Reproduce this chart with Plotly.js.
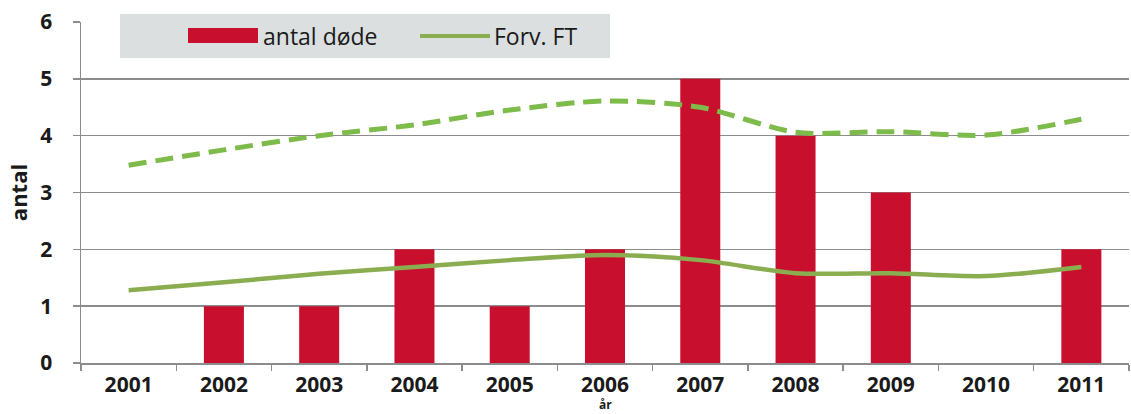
<!DOCTYPE html>
<html>
<head>
<meta charset="utf-8">
<script src="https://cdn.plot.ly/plotly-3.0.1.min.js"></script>
<style>html,body{margin:0;padding:0;background:#fff;}#chart{width:1131px;height:414px;}</style>
</head>
<body>
<div id="chart"></div>
<script>
const years = ['2001','2002','2003','2004','2005','2006','2007','2008','2009','2010','2011'];
const antalDoede = [0, 1, 1, 2, 1, 2, 5, 4, 3, 0, 2];
const forvFT = [1.28, 1.42, 1.57, 1.69, 1.81, 1.9, 1.81, 1.58, 1.58, 1.53, 1.69];
const forvOevre = [3.48, 3.75, 4.0, 4.19, 4.45, 4.61, 4.5, 4.06, 4.07, 4.01, 4.29];
const yTicks = [0, 1, 2, 3, 4, 5, 6];

const FONT = 'Open Sans, Liberation Sans, sans-serif';
const red = '#c8102e';
const green = '#8aae4f';
const green2 = '#7dbb4a';

const traces = [
  {type:'bar', name:'antal døde', x:years, y:antalDoede, marker:{color:red}, showlegend:false},
  {type:'scatter', mode:'lines', name:'Forv. FT', x:years, y:forvFT,
   line:{color:green, width:4.5, shape:'spline', smoothing:0.8}, showlegend:false},
  {type:'scatter', mode:'lines', name:'øvre grænse', x:years, y:forvOevre,
   line:{color:green2, width:5, shape:'spline', smoothing:0.8, dash:'18px,9px'}, showlegend:false}
];

const layout = {
  width:1131, height:414,
  margin:{l:81, r:2, t:22, b:51},
  paper_bgcolor:'#fff', plot_bgcolor:'#fff',
  bargap:0.58,
  font:{family:FONT, color:'#1a1a1a'},
  xaxis:{
    type:'category', tickson:'boundaries', ticks:'outside', ticklen:6, tickcolor:'#8c8c8c', tickwidth:1.5,
    showgrid:false, showline:true, linecolor:'#8c8c8c', linewidth:1.5,
    tickfont:{family:FONT, size:21, color:'#1a1a1a', weight:'bold'},
    ticklabelstandoff:2
  },
  yaxis:{
    range:[0,6], tickvals:yTicks, ticktext:yTicks.map(String),
    ticks:'outside', ticklen:7, tickcolor:'#8c8c8c', tickwidth:1.5,
    showgrid:true, gridcolor:'#8c8c8c', gridwidth:1.5,
    showline:true, linecolor:'#8c8c8c', linewidth:1.5, zeroline:false,
    tickfont:{family:FONT, size:21, color:'#1a1a1a', weight:'bold'},
    ticklabelstandoff:16,
    title:{text:'<b>antal</b>', font:{family:FONT, size:22, color:'#1a1a1a'}}
  },
  shapes:[
    {type:'rect', xref:'paper', yref:'paper', x0:(120-81)/1048, x1:(610-81)/1048, y0:(363-58)/341, y1:(363-14)/341,
     fillcolor:'#dcdfdf', line:{width:0}, layer:'above'},
    {type:'rect', xref:'paper', yref:'paper', x0:(188-81)/1048, x1:(258-81)/1048, y0:(363-43)/341, y1:(363-28)/341,
     fillcolor:red, line:{width:0}, layer:'above'},
    {type:'line', xref:'paper', yref:'paper', x0:(420-81)/1048, x1:(490-81)/1048, y0:(363-36)/341, y1:(363-36)/341,
     line:{color:green, width:4}, layer:'above'}
  ],
  annotations:[
    {xref:'paper', yref:'paper', x:(261-81)/1048, y:(363-36)/341, xanchor:'left', yanchor:'middle', showarrow:false,
     text:'antal døde', font:{family:FONT, size:23, color:'#1a1a1a'}},
    {xref:'paper', yref:'paper', x:(492-81)/1048, y:(363-36)/341, xanchor:'left', yanchor:'middle', showarrow:false,
     text:'Forv. FT', font:{family:FONT, size:23, color:'#1a1a1a'}},
    {xref:'paper', yref:'paper', x:0.5, y:(363-414)/341, xanchor:'center', yanchor:'bottom', showarrow:false,
     borderpad:0, text:'<b>år</b>', font:{family:FONT, size:12, color:'#1a1a1a'}}
  ]
};

Plotly.newPlot('chart', traces, layout, {displayModeBar:false, staticPlot:true});
</script>
</body>
</html>
